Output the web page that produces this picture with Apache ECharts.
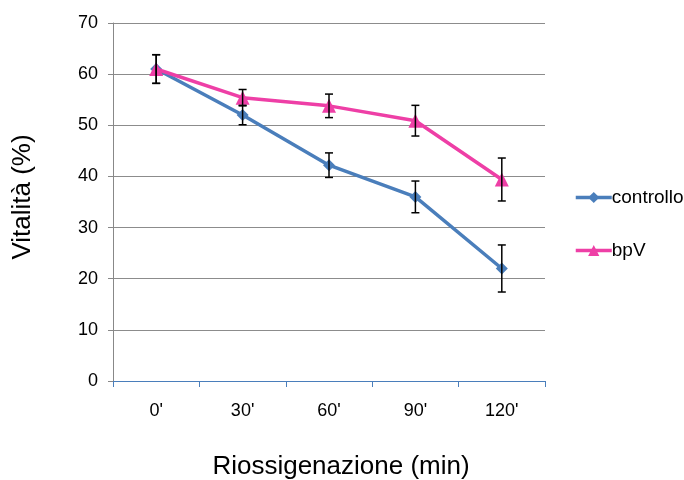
<!DOCTYPE html>
<html><head><meta charset="utf-8">
<script src="https://cdn.jsdelivr.net/npm/echarts@6/dist/echarts.min.js"></script>
<style>html,body{margin:0;padding:0;background:#fff}#c{width:684px;height:480px}</style>
</head><body><div id="c"></div>
<script>
var categories = ["0'", "30'", "60'", "90'", "120'"];
var controllo = [61.0, 52.0, 42.2, 36.0, 22.0];
var controlloErr = [2.8, 1.9, 2.4, 3.1, 4.6];
var bpV = [61.0, 55.4, 53.8, 50.9, 39.4];
var bpVErr = [2.8, 1.6, 2.3, 3.0, 4.2];
var yTicks = [0, 10, 20, 30, 40, 50, 60, 70];

function errData(vals, errs) {
  return vals.map(function (v, i) { return [i, v - errs[i], v + errs[i]]; });
}
function errRender(params, api) {
  var x = api.value(0);
  var lo = api.coord([x, api.value(1)]);
  var hi = api.coord([x, api.value(2)]);
  var w = 4;
  var st = { stroke: '#000', lineWidth: 1.5 };
  return { type: 'group', children: [
    { type: 'line', shape: { x1: hi[0], y1: hi[1], x2: lo[0], y2: lo[1] }, style: st },
    { type: 'line', shape: { x1: hi[0] - w, y1: hi[1], x2: hi[0] + w, y2: hi[1] }, style: st },
    { type: 'line', shape: { x1: lo[0] - w, y1: lo[1], x2: lo[0] + w, y2: lo[1] }, style: st }
  ]};
}
var chart = echarts.init(document.getElementById('c'));
var font = 'Liberation Sans, Arial, sans-serif';
chart.setOption({
  animation: false,
  textStyle: { fontFamily: font },
  grid: { left: 113, right: 139, top: 23, bottom: 99, containLabel: false, outerBoundsMode: 'none' },
  legend: {
    orient: 'vertical', left: 569, top: 183, itemGap: 34, itemWidth: 36, itemHeight: 14,
    lineStyle: { width: 3.5 },
    textStyle: { fontSize: 19, color: '#000', fontFamily: font, padding: [0, 0, 0, -5] },
    data: ['controllo', 'bpV']
  },
  xAxis: {
    type: 'category', data: categories, boundaryGap: true,
    axisLine: { lineStyle: { color: '#4A7EBB', width: 1 } },
    axisTick: { show: true, length: 6, lineStyle: { color: '#4A7EBB' } },
    axisLabel: { fontSize: 18, color: '#000', margin: 21 },
    name: 'Riossigenazione (min)', nameLocation: 'middle', nameGap: 73,
    nameTextStyle: { fontSize: 26, color: '#000', padding: [0, 0, 0, 24] }
  },
  yAxis: {
    type: 'value', min: 0, max: 70, interval: 10,
    axisLine: { show: true, lineStyle: { color: '#888' } },
    axisTick: { show: true, length: 5, lineStyle: { color: '#888' } },
    axisLabel: { fontSize: 18, color: '#000', margin: 15 },
    splitLine: { lineStyle: { color: '#8c8c8c', width: 1 } },
    name: 'Vitalità (%)', nameLocation: 'middle', nameGap: 77,
    nameTextStyle: { fontSize: 26, color: '#000', padding: [0, 0, 0, 10] }
  },
  series: [
    { name: 'controllo', type: 'line', data: controllo, symbol: 'diamond', symbolSize: 12,
      itemStyle: { color: '#4A7EBB' }, lineStyle: { color: '#4A7EBB', width: 3.5 }, z: 3 },
    { name: 'bpV', type: 'line', data: bpV, symbol: 'triangle', symbolSize: 14,
      itemStyle: { color: '#EE3FA6' }, lineStyle: { color: '#EE3FA6', width: 3.5 }, z: 4 },
    { name: 'errC', type: 'custom', renderItem: errRender, data: errData(controllo, controlloErr), z: 5 },
    { name: 'errB', type: 'custom', renderItem: errRender, data: errData(bpV, bpVErr), z: 5 }
  ]
});
</script></body></html>
